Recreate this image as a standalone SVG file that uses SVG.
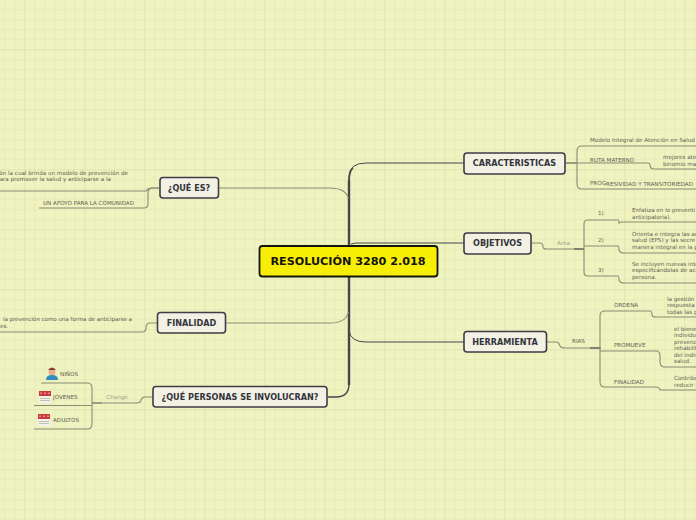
<svg xmlns="http://www.w3.org/2000/svg" width="696" height="520" viewBox="0 0 696 520">
<style>
.t{font-family:"DejaVu Sans",sans-serif;font-size:5.6px;fill:#5f5f55}
.b{font-family:"DejaVu Sans",sans-serif;font-size:8.1px;font-weight:bold;fill:#33343c;text-anchor:middle}
.n{fill:#f2f1e4;stroke:#3c3d47;stroke-width:1.6}
.l{fill:none;stroke:#8a8b74;stroke-width:1.100}
.d{fill:none;stroke:#45464c;stroke-width:1}
.lb{font-family:"DejaVu Sans",sans-serif;font-size:5.6px;fill:#a0a08c}
</style>
<defs>
<pattern id="g" width="10" height="10" patternUnits="userSpaceOnUse" x="4" y="9">
<path d="M.5 0V10M0 .5H10" fill="none" stroke="#e9ecbb" stroke-width="1.500"/>
</pattern>
<pattern id="m" width="60" height="60" patternUnits="userSpaceOnUse" x="24" y="49">
<path d="M.5 0V60M0 .5H60" fill="none" stroke="#e3e7b6" stroke-width="1.500"/>
</pattern>
<g id="cal"><rect x="0" y="0" width="12" height="12" fill="#f4f1ea"/><rect x="0" y="0" width="12" height="5" fill="#c9383a"/><path d="M2 1.500V3M6 1.500V3M10 1.500V3" stroke="#f0dcdc" stroke-width="1"/><path d="M1 7.500H11M1 9.500H11" stroke="#c0c0b8" stroke-width="1"/></g>
</defs>
<rect width="696" height="520" fill="#eff3bf"/>
<rect width="696" height="520" fill="url(#g)"/>
<rect width="696" height="520" fill="url(#m)"/>
<g id="connectors">
<path d="M349 180V385" fill="none" stroke="#45464c" stroke-width="2.400"/>
<path d="M349 182Q349 171 353 168" fill="none" stroke="#56575a" stroke-width="1.800"/>
<path d="M349 250V177Q349 163 366 163H464" class="d"/>
<path d="M351 244Q354 243 358 243H464" class="d"/>
<path d="M349 330Q350 342 366 342H464" class="d"/>
<path d="M219 188H330Q345 188 348.500 198" class="l"/>
<path d="M226 323H330Q346 323 348.500 312" class="l"/>
<path d="M328 397H336Q349 397 349 384" fill="none" stroke="#45464c" stroke-width="1.400"/>
<path d="M565 163H577" class="d"/>
<path d="M577 163H648Q650 163 650 165Q650 169 654 169H696" class="l"/>
<path d="M577 163V151Q577 146 582 146H696" class="l"/>
<path d="M577 163V184Q577 189 582 189H696" class="l"/>
<path d="M532 243H540Q543 243 543 247Q543 249 547 249H584" class="l"/>
<path d="M574 249H584" class="d"/>
<path d="M584 249V224Q584 220 588 220H618Q619 220 619 223Q620 222 622 222H696" class="l"/>
<path d="M584 246H618Q619 246 619 250Q620 253 624 253H696" class="l"/>
<path d="M584 249V272Q584 276 588 276H618Q619 276 619 280Q620 283 624 283H696" class="l"/>
<path d="M547 342H556Q559 342 560 346Q561 348 565 348H600" class="l"/>
<path d="M590 348H601" class="d"/>
<path d="M600 348V316Q600 311 605 311H650Q652 311 652 315Q652 317 656 317H696" class="l"/>
<path d="M600 351H656Q660 351 660 356V362Q660 367 665 367H696" class="l"/>
<path d="M600 348V382Q600 387 605 387H655Q660 387 660 390H696" class="l"/>
<path d="M159 188H152Q149 188 148 192V204Q148 208 144 208H39" class="l"/>
<path d="M159 188H152Q148 188 146 191H0" class="l"/>
<path d="M157 323H150Q146 323 146 328Q146 332 142 332H0" class="l"/>
<path d="M153 397H145Q142 397 141 400Q141 403 136 403H102" class="l"/>
<path d="M102 403H92" class="d"/>
<path d="M92 403V388Q92 383 87 383H41" class="l"/>
<path d="M92 405.500H34" class="l"/>
<path d="M92 403V424Q92 429 87 429H34" class="l"/>
</g>
<g id="center"><rect x="259.500" y="246" width="178" height="30.500" rx="3" fill="#f7ee06" stroke="#15150f" stroke-width="1.800"/><text x="348" y="265" class="b" style="font-size:11.200px;fill:#15150f">RESOLUCIÓN 3280 2.018</text></g>
<g id="caracteristicas"><rect x="464" y="153" width="101" height="21" rx="3" class="n"/><text x="514.500" y="166" class="b">CARACTERISTICAS</text></g>
<g id="objetivos"><rect x="464" y="233" width="67" height="21" rx="3" class="n"/><text x="497.500" y="246" class="b">OBJETIVOS</text></g>
<g id="herramienta"><rect x="464" y="331.500" width="82.500" height="20.500" rx="3" class="n"/><text x="505" y="345" class="b">HERRAMIENTA</text></g>
<g id="que-es"><rect x="160" y="177.500" width="58.500" height="20.500" rx="3" class="n"/><text x="189" y="191" class="b">¿QUÉ ES?</text></g>
<g id="finalidad"><rect x="157.500" y="312.500" width="68" height="20.500" rx="3" class="n"/><text x="191.500" y="326" class="b">FINALIDAD</text></g>
<g id="personas"><rect x="153" y="386.500" width="174" height="20.500" rx="3" class="n"/><text x="240" y="400" class="b">¿QUÉ PERSONAS SE INVOLUCRAN?</text></g>
<g id="car-items">
<text x="590" y="142" class="t">Modelo Integral de Atención en Salud</text>
<text x="590" y="162" class="t">RUTA MATERNO</text>
<text x="663" y="159" class="t">mejores ate</text><text x="663" y="166" class="t">binomio ma</text>
<text x="590" y="185" class="t">PROG</text><text x="606" y="186" class="t">RESIVIDAD Y TRANSITORIEDAD</text>
</g>
<g id="obj-items">
<text x="557" y="245" class="lb">Area</text>
<text x="598" y="215" class="t">1)</text><text x="598" y="242" class="t">2)</text><text x="598" y="272" class="t">3)</text>
<text x="632" y="212" class="t">Enfatiza en lo preventi</text><text x="632" y="219" class="t">anticipatoria).</text>
<text x="632" y="236" class="t">Orienta e integra las ac</text><text x="632" y="242" class="t">salud (EPS) y las secre</text><text x="632" y="249" class="t">manera integral en la p</text>
<text x="632" y="266" class="t">Se incluyen nuevas inte</text><text x="632" y="272" class="t">especificándolas de acu</text><text x="632" y="279" class="t">persona.</text>
</g>
<g id="her-items">
<text x="572" y="343" class="t">RIAS</text>
<text x="614" y="307" class="t">ORDENA</text><text x="614" y="347" class="t">PROMUEVE</text><text x="614" y="384" class="t">FINALIDAD</text>
<text x="667" y="301" class="t">la gestión</text><text x="667" y="307" class="t">respuesta</text><text x="667" y="314" class="t">todas las p</text>
<text x="674" y="331" class="t">el biene</text><text x="674" y="337" class="t">individu</text><text x="674" y="344" class="t">prevenc</text><text x="674" y="350" class="t">rehabilit</text><text x="674" y="357" class="t">del indiv</text><text x="674" y="363" class="t">salud.</text>
<text x="674" y="380" class="t">Contribu</text><text x="674" y="387" class="t">reducir l</text>
</g>
<g id="left-items">
<text x="128" y="175" class="t" text-anchor="end">ón la cual brinda un modelo de prevención de</text>
<text x="111" y="181" class="t" text-anchor="end">ara promover la salud y anticiparse a la</text>
<text x="43" y="205" class="t">UN APOYO PARA LA COMUNIDAD</text>
<text x="3" y="321" class="t" textLength="129">la prevención como una forma de anticiparse a</text>
<text x="0" y="328" class="t">es.</text>
<text x="117" y="399" class="lb" text-anchor="middle">Change</text>
<text x="60" y="376" class="t">NIÑOS</text>
<text x="53" y="399" class="t">JOVENES</text>
<text x="53" y="422" class="t">ADULTOS</text>
</g>
<g id="icons">
<circle cx="52" cy="372" r="3.500" fill="#e3b18f"/><path d="M48 370Q52 365 56 370Z" fill="#8a3b2b"/><path d="M46 380Q46 375 52 375Q58 375 58 380Z" fill="#2f8ebb"/>
<use href="#cal" x="39" y="391"/><use href="#cal" x="38" y="414"/>
</g>
</svg>
